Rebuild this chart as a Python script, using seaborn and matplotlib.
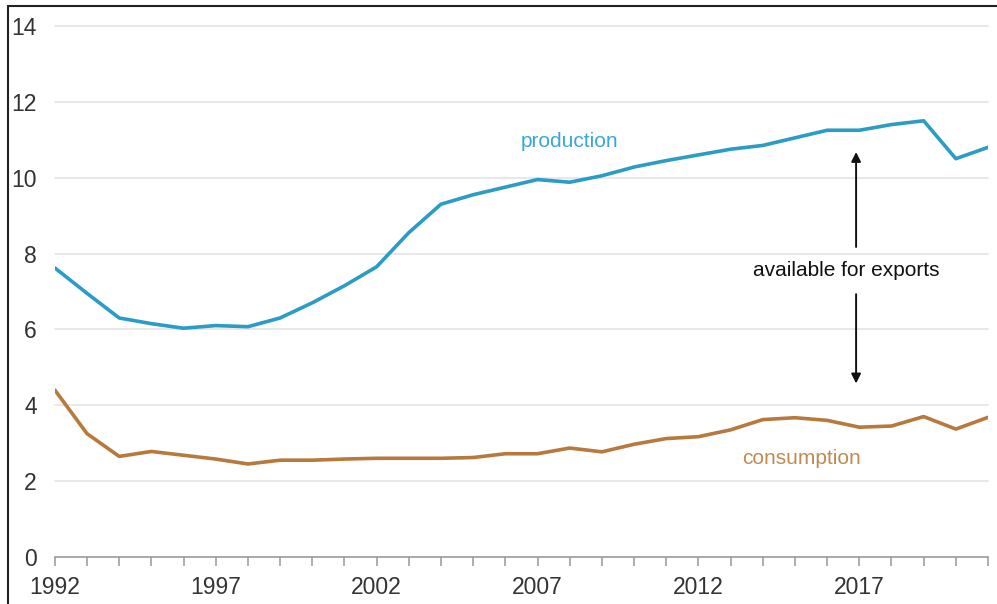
import numpy as np
import pandas as pd
import seaborn as sns
import matplotlib.pyplot as plt
from matplotlib.patches import Rectangle

# Data
years = list(range(1992, 2022))
production = [7.62, 6.95, 6.3, 6.15, 6.03, 6.1, 6.07, 6.3, 6.7, 7.15,
              7.65, 8.55, 9.3, 9.55, 9.75, 9.95, 9.88, 10.05, 10.28, 10.45,
              10.6, 10.75, 10.85, 11.05, 11.25, 11.25, 11.4, 11.5, 10.5, 10.8]
consumption = [4.4, 3.25, 2.65, 2.78, 2.68, 2.58, 2.45, 2.55, 2.55, 2.58,
               2.6, 2.6, 2.6, 2.62, 2.72, 2.72, 2.87, 2.77, 2.97, 3.12,
               3.17, 3.35, 3.62, 3.67, 3.6, 3.42, 3.45, 3.7, 3.37, 3.68]
year_labels = [1992, 1997, 2002, 2007, 2012, 2017]
y_ticks = [0, 2, 4, 6, 8, 10, 12, 14]

df = pd.DataFrame({'year': years * 2,
                   'value': production + consumption,
                   'series': ['production'] * len(years) + ['consumption'] * len(years)})

sns.set_style('white')
plt.rcParams['font.family'] = ['Liberation Sans', 'DejaVu Sans']

blue = '#2b9cc4'
brown = '#b8793c'

fig = plt.figure(figsize=(9.97, 6.04), dpi=100)
ax = fig.add_axes([0.055, 0.078, 0.936, 0.879])

sns.lineplot(data=df, x='year', y='value', hue='series',
             palette={'production': blue, 'consumption': brown},
             linewidth=2.6, legend=False, ax=ax)

ax.set_xlim(1992, 2021)
ax.set_ylim(0, 14)
ax.set_yticks(y_ticks)
ax.set_xticks(year_labels)
ax.set_xticks(years, minor=True)
ax.set_xlabel('')
ax.set_ylabel('')

for y in y_ticks[1:]:
    ax.axhline(y, color='#e6e6e6', linewidth=1.3, zorder=0, clip_on=False)

for s in ['top', 'right', 'left']:
    ax.spines[s].set_visible(False)
ax.spines['bottom'].set_color('#999999')
ax.spines['bottom'].set_linewidth(1.2)

ax.tick_params(axis='y', length=0, pad=13, labelsize=16.5, labelcolor='#333333')
ax.tick_params(axis='x', which='both', direction='out', length=6.5, width=1.1,
               color='#999999', bottom=True, labelsize=16.5, labelcolor='#333333', pad=7)

ax.text(2008.0, 10.95, 'production', color='#3aa7d4', fontsize=15, ha='center', va='center')
ax.text(2015.2, 2.6, 'consumption', color='#c08a50', fontsize=15, ha='center', va='center')
ax.text(2016.6, 7.55, 'available for exports', color='#111111', fontsize=15,
        ha='center', va='center')
ax.annotate('', xy=(2016.9, 10.75), xytext=(2016.9, 8.1),
            arrowprops=dict(arrowstyle='-|>', color='#111111', lw=1.4, mutation_scale=14))
ax.annotate('', xy=(2016.9, 4.5), xytext=(2016.9, 7.0),
            arrowprops=dict(arrowstyle='-|>', color='#111111', lw=1.4, mutation_scale=14))

# frame on left and top edges of the image
fig.patches.append(Rectangle((8 / 997, -0.1), 1.2, 1.1 - 6 / 604, transform=fig.transFigure,
                             fill=False, edgecolor='#222222', linewidth=1.5))

fig.savefig('out.png', dpi=100)
